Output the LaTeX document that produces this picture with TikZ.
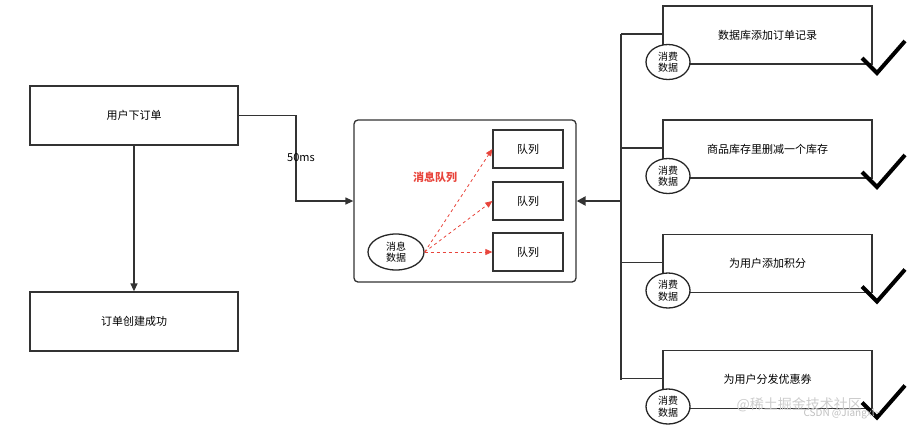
\documentclass[tikz,border=0pt]{standalone}
\usepackage{fontspec}
\setmainfont{Noto Sans CJK SC}
\usetikzlibrary{arrows.meta,shapes.geometric}
\definecolor{redq}{HTML}{E8453C}
\begin{document}
\begin{tikzpicture}[x=1pt,y=-1pt,font=\fontsize{11}{13}\selectfont,
  box/.style={draw=black!80,line width=1.3pt,inner sep=0pt},
  ell/.style={draw=black!85,line width=1.3pt,ellipse,fill=white,font=\fontsize{10}{11.5}\selectfont,align=center,inner sep=0pt},
  ln/.style={draw=black!80,line width=1.3pt},
  chk/.style={line width=4pt,black}]
\useasboundingbox (0,0) rectangle (915,432);
\node[box,minimum width=208,minimum height=59] (a) at (134,115.5) {用户下订单};
\node[box,minimum width=208,minimum height=59] (b) at (134,321.5) {订单创建成功};
\draw[ln,-{Triangle[length=8pt,width=7pt]}] (a) -- (b);
\node[draw=black!80,line width=1.3pt,rounded corners=4pt,minimum width=222,minimum height=162] (mq) at (465,201) {};
\coordinate (c1) at (296,115.5);
\coordinate (c2) at (296,201);
\draw[ln,-{Triangle[length=8pt,width=7pt]}] (a.east) -- (c1) -- (c2) -- (mq.west);
\node at (301,158) {50ms};
\node[box,minimum width=70,minimum height=38] (q1) at (528,149) {队列};
\node[box,minimum width=70,minimum height=38] (q2) at (528,201) {队列};
\node[box,minimum width=70,minimum height=38] (q3) at (528,252) {队列};
\node[ell,minimum width=56,minimum height=36] (m) at (396,252) {消息\\数据};
\foreach \q in {q1,q2,q3}
  \draw[redq,dashed,line width=0.8pt,-{Triangle[length=7pt,width=6pt]}] (m.east) -- (\q.west);
\node[text=redq,font=\bfseries\fontsize{11}{13}\selectfont] at (435,177) {消息队列};
% right side
\coordinate (t) at (621,34);
\coordinate (bt) at (621,380);
\coordinate (j) at (621,201);
\draw[ln] (t) -- (bt);
\draw[line width=2.5pt,black!80,-{Triangle[length=9pt,width=9pt]}] (j) -- (mq.east);
\foreach \n/\y/\txt in {1/35/数据库添加订单记录,2/149/商品库存里删减一个库存,3/263.5/为用户添加积分,4/379.5/为用户分发优惠券}{
  \node[box,minimum width=209,minimum height=58] (r\n) at (767.5,\y) {\txt};
  \coordinate (h\n) at (621,\y-1);
  \draw[ln] (h\n) -- (h\n -| r\n.west);
  \node[ell,minimum width=44,minimum height=35] (e\n) at (668,\y+27) {消费\\数据};
  \draw[chk] (862,\y+23) -- (877,\y+38) -- (905,\y+6);
}
\node[text=black!20,font=\fontsize{14}{15}\selectfont,anchor=west] at (733,405) {@稀土掘金技术社区};
\node[text=black!25,font=\fontsize{10}{11}\selectfont,anchor=west] at (800,414) {CSDN @Jiangxl\textasciitilde};
\end{tikzpicture}
\end{document}
